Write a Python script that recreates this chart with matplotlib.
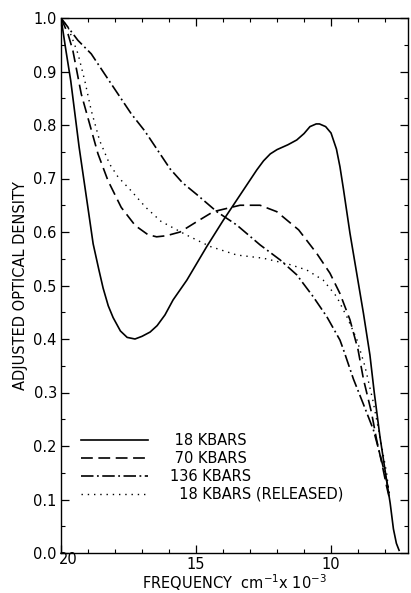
import matplotlib
matplotlib.use("Agg")
import matplotlib.pyplot as plt
from matplotlib.ticker import MultipleLocator
from matplotlib.transforms import ScaledTranslation

plt.rcParams['font.family'] = ['DejaVu Sans']
plt.rcParams['lines.scale_dashes'] = False

# 18 KBARS
x_18 = [20.0, 19.82, 19.64, 19.33, 18.97, 18.81, 18.6, 18.44, 18.25, 18.07, 17.8, 17.55,
        17.26, 17.0, 16.7, 16.44, 16.15, 15.85, 15.34, 14.6, 13.99, 13.37, 12.75, 12.5,
        12.25, 12.0, 11.6, 11.27, 11.0, 10.78, 10.55, 10.43, 10.2, 10.0, 9.8, 9.67, 9.54,
        9.3, 9.05, 8.8, 8.56, 8.4, 8.19, 7.94, 7.81, 7.69, 7.58, 7.48]
y_18 = [1.0, 0.94, 0.883, 0.759, 0.634, 0.578, 0.53, 0.495, 0.462, 0.44, 0.415, 0.403,
        0.400, 0.405, 0.413, 0.425, 0.445, 0.473, 0.51, 0.573, 0.622, 0.669, 0.716, 0.733,
        0.746, 0.754, 0.763, 0.772, 0.784, 0.797, 0.802, 0.802, 0.797, 0.785, 0.755, 0.722, 0.68,
        0.598, 0.523, 0.448, 0.37, 0.30, 0.218, 0.135, 0.093, 0.045, 0.018, 0.005]

# 70 KBARS
x_70 = [20.0, 19.74, 19.56, 19.25, 18.94, 18.63, 18.26, 17.77, 17.25, 16.78, 16.46, 16.1,
        15.59, 14.95, 14.36, 13.37, 12.63, 12.01, 11.2, 10.53, 10.04, 9.67, 9.3, 9.0,
        8.8, 8.5, 8.31, 8.12, 7.94, 7.85]
y_70 = [1.0, 0.970, 0.939, 0.858, 0.802, 0.746, 0.696, 0.646, 0.612, 0.595, 0.591, 0.593,
        0.600, 0.620, 0.638, 0.650, 0.650, 0.638, 0.604, 0.56, 0.523, 0.485, 0.436, 0.38,
        0.325, 0.262, 0.211, 0.168, 0.124, 0.105]

# 136 KBARS
x_136 = [20.0, 19.37, 18.88, 18.38, 17.89, 17.4, 16.9, 16.41, 15.96, 15.5, 14.97, 14.23,
         13.49, 12.63, 11.89, 11.27, 10.66, 10.16, 9.67, 9.54, 9.17, 8.8, 8.43, 8.19, 7.94, 7.85]
y_136 = [1.0, 0.958, 0.933, 0.895, 0.858, 0.821, 0.789, 0.752, 0.718, 0.692, 0.67, 0.638,
         0.613, 0.576, 0.548, 0.52, 0.479, 0.442, 0.398, 0.38, 0.325, 0.278, 0.23, 0.185, 0.135, 0.112]

# 18 KBARS (RELEASED)
x_rel = [20.0, 19.74, 19.37, 19.12, 18.88, 18.57, 18.2, 17.89, 17.42, 16.86, 16.3, 15.34,
         14.48, 13.49, 12.51, 11.58, 10.9, 10.29, 9.79, 9.4, 9.05, 8.75, 8.45, 8.2, 7.94, 7.85]
y_rel = [1.0, 0.983, 0.933, 0.883, 0.827, 0.771, 0.727, 0.703, 0.678, 0.646, 0.62, 0.594,
         0.573, 0.557, 0.551, 0.54, 0.529, 0.51, 0.479, 0.44, 0.40, 0.35, 0.285, 0.22, 0.149, 0.11]

labels = [" 18 KBARS", " 70 KBARS", "136 KBARS", "  18 KBARS (RELEASED)"]
x_ticks = [20, 15, 10]
y_ticks = [0.0, 0.1, 0.2, 0.3, 0.4, 0.5, 0.6, 0.7, 0.8, 0.9, 1.0]

fig = plt.figure(figsize=(4.11, 5.93), dpi=100)
ax = fig.add_axes([61/411, 40/593, 347/411, 535/593])

lw = 1.2
ax.plot(x_18, y_18, color='black', lw=lw, linestyle='-', label=labels[0])
ax.plot(x_70, y_70, color='black', lw=lw, linestyle=(0, (8.5, 4)), label=labels[1])
ax.plot(x_136, y_136, color='black', lw=lw, linestyle=(0, (9, 2.5, 1.3, 2.5)), label=labels[2])
ax.plot(x_rel, y_rel, color='black', lw=1.0, linestyle=(0, (1, 3.5)), label=labels[3])

ax.set_xlim(20, 7.15)
ax.set_ylim(0, 1.0)
ax.set_xticks(x_ticks)
ax.set_yticks(y_ticks)
ax.set_yticklabels([f"{v:.1f}" for v in y_ticks])
ax.xaxis.set_minor_locator(MultipleLocator(1))
ax.yaxis.set_minor_locator(MultipleLocator(0.05))
ax.tick_params(which='both', direction='in', top=True, right=True, labelsize=10.5, color='black')
ax.tick_params(which='major', length=6, width=0.9, pad=3)
ax.tick_params(which='minor', length=3, width=0.8)
for s in ax.spines.values():
    s.set_linewidth(1.0)

# the "20" label sits slightly right and up in the original print
t20 = ax.xaxis.get_major_ticks()[0].label1
t20.set_transform(t20.get_transform() + ScaledTranslation(5/72, 4/72, fig.dpi_scale_trans))

ax.set_xlabel("FREQUENCY  cm$^{-1}$x 10$^{-3}$", fontsize=10.5, labelpad=0)
ax.set_ylabel("ADJUSTED OPTICAL DENSITY", fontsize=10.5, labelpad=4)

leg = ax.legend(loc='lower left', bbox_to_anchor=(0.04, 0.085), frameon=False,
                fontsize=10.5, handlelength=4.6, handletextpad=1.5, labelspacing=0.2,
                borderaxespad=0)

fig.savefig("out.png", dpi=100)
